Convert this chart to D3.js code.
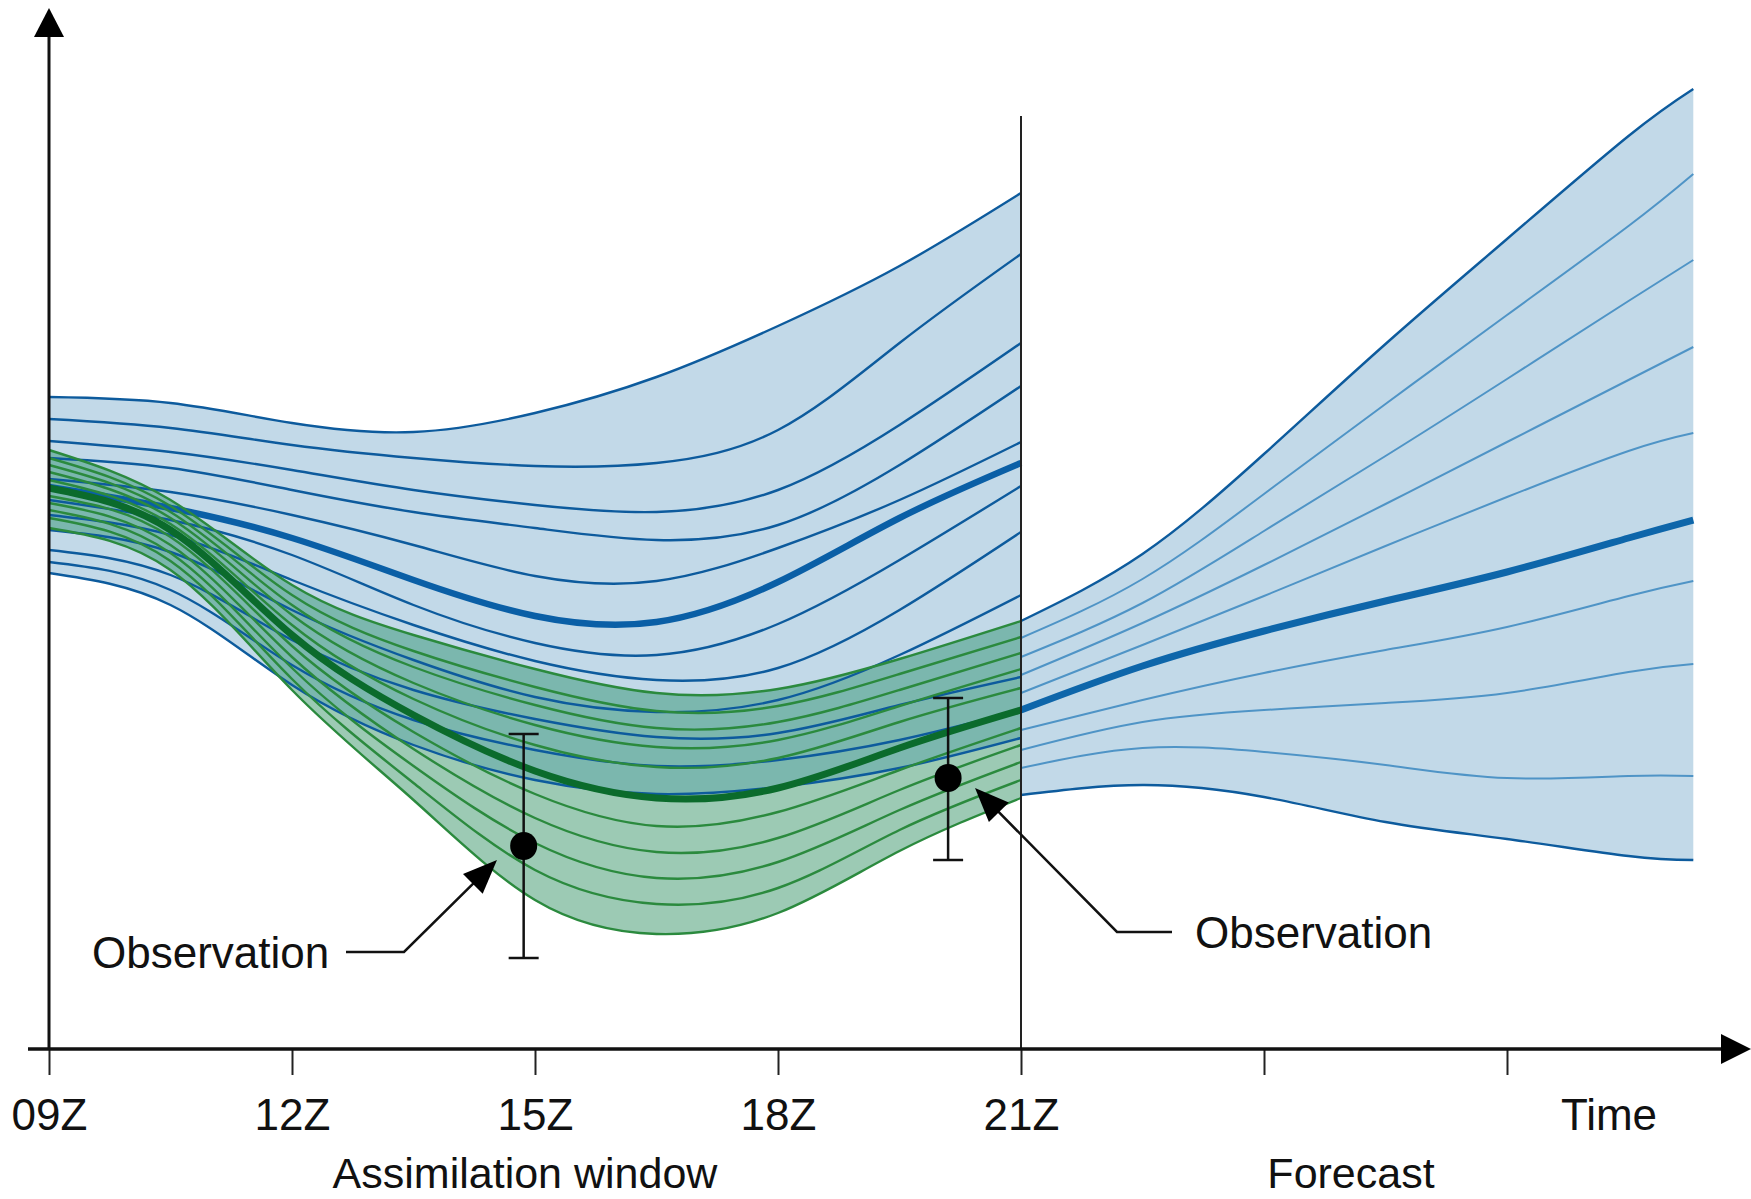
<!DOCTYPE html>
<html><head><meta charset="utf-8">
<script src="https://cdn.jsdelivr.net/npm/d3@7"></script>
<style>
html,body{margin:0;padding:0;background:#fff;}
svg{display:block;}
text{font-family:"Liberation Sans",Arial,Helvetica,sans-serif;fill:#111;}
</style></head><body>
<svg id="chart" width="1751" height="1199"></svg>
<script>
// ---------- DATA (time in hours, state in arbitrary units) ----------
const assimilationHours = [9, 10.5, 12, 13.5, 15, 16.5, 18, 19.5, 21];
const forecastHours = [21, 22.5, 24, 25.5, 27, 28.5, 29.3];

// background (first-guess) ensemble members, top to bottom
const backgroundMembers = [
  [65.2, 64.6, 62.6, 61.7, 63.6, 67.2, 72.3, 78.3, 85.6],
  [63.0, 62.1, 60.4, 59.1, 58.3, 58.6, 61.9, 70.6, 79.5],
  [60.8, 59.7, 57.9, 55.9, 54.4, 53.7, 55.9, 62.4, 70.6],
  [59.1, 58.1, 55.9, 53.7, 52.1, 50.9, 52.4, 58.4, 66.3],
  [57.0, 55.7, 53.4, 50.4, 47.3, 46.8, 50.1, 54.9, 60.7],
  [54.9, 52.9, 49.4, 44.4, 40.6, 39.4, 42.5, 48.9, 56.3],
  [53.4, 51.4, 46.9, 42.4, 38.8, 36.9, 38.1, 43.9, 51.7],
  [51.9, 49.7, 43.9, 38.9, 35.2, 33.7, 34.9, 39.4, 45.4],
  [49.9, 47.4, 40.9, 35.9, 33.0, 31.2, 31.6, 34.4, 37.2],
  [48.7, 45.9, 38.4, 32.9, 29.9, 28.3, 28.9, 30.9, 33.9],
  [47.6, 44.4, 36.4, 30.4, 26.9, 25.5, 26.2, 28.1, 31.1]
];
const backgroundMean = [56.2, 54.1, 51.1, 46.9, 43.3, 42.7, 46.7, 53.1, 58.6];

// analysis ensemble members, top to bottom
const analysisMembers = [
  [59.9, 54.9, 46.4, 41.4, 38.0, 35.6, 36.0, 39.0, 42.8],
  [59.1, 54.3, 45.4, 39.8, 36.2, 33.8, 34.3, 37.5, 41.2],
  [58.4, 53.7, 44.4, 38.2, 34.4, 32.1, 32.7, 35.9, 39.6],
  [57.7, 53.1, 43.4, 36.6, 32.4, 30.2, 30.9, 34.3, 38.0],
  [56.9, 52.5, 42.4, 35.0, 30.4, 28.2, 29.1, 32.7, 36.1],
  [55.3, 51.2, 40.3, 31.7, 25.5, 22.3, 23.7, 27.9, 32.1],
  [54.6, 50.4, 39.2, 30.0, 23.1, 19.7, 21.1, 25.9, 30.4],
  [53.9, 49.6, 38.1, 28.3, 20.6, 17.1, 18.7, 23.9, 28.7],
  [53.1, 48.8, 37.0, 26.6, 17.9, 14.5, 16.1, 21.9, 26.9],
  [52.1, 47.9, 35.9, 24.9, 14.9, 11.5, 13.6, 19.8, 25.1]
];
const analysisMean = [56.1, 51.9, 41.4, 33.4, 27.8, 25.1, 26.1, 30.1, 33.9];

// forecast ensemble members, top to bottom
const forecastMembers = [
  [42.8, 49.5, 59.5, 70.5, 81.0, 91.3, 96.0],
  [41.1, 47.0, 55.5, 64.5, 73.4, 82.3, 87.5],
  [39.2, 44.6, 51.8, 59.3, 67.0, 74.8, 78.9],
  [37.4, 42.6, 48.4, 54.5, 60.7, 66.9, 70.2],
  [35.6, 40.4, 45.3, 50.3, 55.2, 59.8, 61.6],
  [31.9, 34.9, 37.6, 39.9, 42.2, 45.3, 46.8],
  [29.9, 32.7, 33.9, 34.6, 35.6, 37.7, 38.5],
  [28.1, 30.1, 29.7, 28.4, 27.1, 27.3, 27.3],
  [25.4, 26.4, 25.2, 22.7, 21.0, 19.3, 18.9]
];
const forecastMean = [33.9, 38.3, 41.8, 44.8, 47.7, 51.1, 52.9];

// observations: time, value, error-bar low/high
const obsHours = [14.86, 20.1];
const obsValues = [20.3, 27.1];
const obsLow = [9.1, 18.9];
const obsHigh = [31.5, 35.1];

const tickHours = [9, 12, 15, 18, 21, 24, 27];
const tickLabels = ["09Z", "12Z", "15Z", "18Z", "21Z", "", ""];

// ---------- DRAWING ----------
const svg = d3.select("#chart");
const x = d3.scaleLinear().domain([9, 30]).range([49, 1750]);
const y = d3.scaleLinear().domain([0, 104]).range([1049, 9]);
const curve = d3.curveNatural;

function lineFor(hours) {
  return d3.line().x((d, i) => x(hours[i])).y(d => y(d)).curve(curve);
}
function areaFor(hours, top, bottom) {
  return d3.area().x((d, i) => x(hours[i]))
    .y1((d, i) => y(top[i])).y0((d, i) => y(bottom[i])).curve(curve)(top);
}

const C = {
  blueFill: "#c2d9e8", blueLine: "#0d5b9d", blueMean: "#0a5fa6",
  fcLine: "#4f94c6", fcMean: "#0e66aa",
  greenFill: "#9ccab4", teal: "#7bb7ae", greenLine: "#2b8a3e", greenMean: "#0b6b2c"
};

const bgTop = backgroundMembers[0], bgBot = backgroundMembers[backgroundMembers.length - 1];
const anTop = analysisMembers[0], anBot = analysisMembers[analysisMembers.length - 1];
const fcTop = forecastMembers[0], fcBot = forecastMembers[forecastMembers.length - 1];

const bgAreaPath = areaFor(assimilationHours, bgTop, bgBot);
const anAreaPath = areaFor(assimilationHours, anTop, anBot);

svg.append("defs").append("clipPath").attr("id", "bgClip")
  .append("path").attr("d", bgAreaPath);

// fills
svg.append("path").attr("d", bgAreaPath).attr("fill", C.blueFill);
svg.append("path").attr("d", areaFor(forecastHours, fcTop, fcBot)).attr("fill", C.blueFill);
svg.append("path").attr("d", anAreaPath).attr("fill", C.greenFill);
svg.append("path").attr("d", anAreaPath).attr("fill", C.teal).attr("clip-path", "url(#bgClip)");

// background lines
const la = lineFor(assimilationHours);
svg.append("g").selectAll("path").data(backgroundMembers).join("path")
  .attr("d", la).attr("fill", "none").attr("stroke", C.blueLine).attr("stroke-width", 2.4);
svg.append("path").attr("d", la(backgroundMean)).attr("fill", "none")
  .attr("stroke", C.blueMean).attr("stroke-width", 6.5);

// analysis lines
svg.append("g").selectAll("path").data(analysisMembers).join("path")
  .attr("d", la).attr("fill", "none").attr("stroke", C.greenLine).attr("stroke-width", 2.4);
svg.append("path").attr("d", la(analysisMean)).attr("fill", "none")
  .attr("stroke", C.greenMean).attr("stroke-width", 7);

// forecast lines
const lf = lineFor(forecastHours);
svg.append("g").selectAll("path").data(forecastMembers).join("path")
  .attr("d", lf).attr("fill", "none")
  .attr("stroke", (d, i) => (i === 0 || i === forecastMembers.length - 1) ? C.blueLine : C.fcLine)
  .attr("stroke-width", (d, i) => (i === 0 || i === forecastMembers.length - 1) ? 2.4 : 2);
svg.append("path").attr("d", lf(forecastMean)).attr("fill", "none")
  .attr("stroke", C.fcMean).attr("stroke-width", 7);

// vertical line at end of assimilation window
svg.append("line").attr("x1", x(21)).attr("x2", x(21)).attr("y1", 116).attr("y2", y(0))
  .attr("stroke", "#222").attr("stroke-width", 2);

// x axis ticks + labels
const ax = svg.append("g").attr("transform", `translate(0,${y(0)})`)
  .call(d3.axisBottom(x).tickValues(tickHours).tickSize(26).tickPadding(24)
    .tickFormat((d, i) => tickLabels[i]));
ax.select(".domain").remove();
ax.selectAll(".tick line").attr("stroke", "#222").attr("stroke-width", 2);
ax.selectAll(".tick text").attr("font-size", 44).attr("fill", "#111")
  .attr("font-family", "Liberation Sans, Arial, sans-serif");

// axis lines and arrows
svg.append("line").attr("x1", 28).attr("x2", 1724).attr("y1", y(0)).attr("y2", y(0))
  .attr("stroke", "#111").attr("stroke-width", 3.5);
svg.append("path").attr("d", `M1721,${y(0) - 15}L1751,${y(0)}L1721,${y(0) + 15}Z`).attr("fill", "#000");
svg.append("line").attr("x1", x(9)).attr("x2", x(9)).attr("y1", y(0)).attr("y2", 34)
  .attr("stroke", "#111").attr("stroke-width", 3);
svg.append("path").attr("d", `M${x(9) - 15},37L${x(9)},8L${x(9) + 15},37Z`).attr("fill", "#000");

// labels
const fs = 44;
svg.append("text").attr("x", 1609).attr("y", 1130).attr("text-anchor", "middle").attr("font-size", fs).text("Time");
svg.append("text").attr("x", 525).attr("y", 1188).attr("text-anchor", "middle").attr("font-size", 43).text("Assimilation window");
svg.append("text").attr("x", 1351).attr("y", 1188).attr("text-anchor", "middle").attr("font-size", 43).text("Forecast");

// observations
const obs = svg.append("g");
obsHours.forEach((h, i) => {
  const cx = x(h);
  obs.append("line").attr("x1", cx).attr("x2", cx).attr("y1", y(obsLow[i])).attr("y2", y(obsHigh[i]))
    .attr("stroke", "#111").attr("stroke-width", 2.5);
  [obsLow[i], obsHigh[i]].forEach(v => obs.append("line").attr("x1", cx - 15).attr("x2", cx + 15)
    .attr("y1", y(v)).attr("y2", y(v)).attr("stroke", "#111").attr("stroke-width", 2.5));
  obs.append("ellipse").attr("cx", cx).attr("cy", y(obsValues[i])).attr("rx", 13.5).attr("ry", 14).attr("fill", "#000");
});

// pointer annotations
function shorten(a, b, d) {
  const len = Math.hypot(b[0] - a[0], b[1] - a[1]);
  return [b[0] - (b[0] - a[0]) * d / len, b[1] - (b[1] - a[1]) * d / len];
}
function pointer(pts) {
  svg.append("path").attr("d", d3.line()(pts.slice(0, -1).concat([shorten(pts[pts.length - 2], pts[pts.length - 1], 20)])))
    .attr("fill", "none").attr("stroke", "#111").attr("stroke-width", 2.5);
  const [a, b] = [pts[pts.length - 2], pts[pts.length - 1]];
  const ang = Math.atan2(b[1] - a[1], b[0] - a[0]);
  const L = 34, Wd = 14;
  const bx = b[0] - L * Math.cos(ang), by = b[1] - L * Math.sin(ang);
  const p1 = [bx + Wd * Math.sin(ang), by - Wd * Math.cos(ang)];
  const p2 = [bx - Wd * Math.sin(ang), by + Wd * Math.cos(ang)];
  svg.append("path").attr("d", `M${b[0]},${b[1]}L${p1[0]},${p1[1]}L${p2[0]},${p2[1]}Z`).attr("fill", "#000");
}
pointer([[346, 952], [404, 952], [497, 860]]);
pointer([[1172, 932], [1117, 932], [975, 788]]);
svg.append("text").attr("x", 92).attr("y", 968).attr("font-size", fs).text("Observation");
svg.append("text").attr("x", 1195).attr("y", 948).attr("font-size", fs).text("Observation");
</script>
</body></html>
